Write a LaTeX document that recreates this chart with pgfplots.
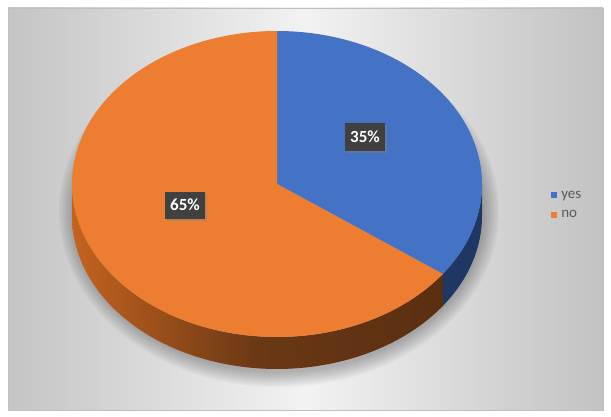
\documentclass[border=0pt]{standalone}
\usepackage{fontspec}
\setmainfont{Carlito}
\usepackage{pgfplots}
\usepackage{pgfplotstable}
\pgfplotsset{compat=1.18}
\usetikzlibrary{shadows}

\definecolor{pieblue}{HTML}{4472C4}
\definecolor{pieorange}{HTML}{ED7D31}
\definecolor{sideblue}{HTML}{1F3763}
\definecolor{sideorangeL}{HTML}{C4631F}
\definecolor{sideorangeM}{HTML}{6A3815}
\definecolor{sideorangeR}{HTML}{5A2F10}
\definecolor{lblbox}{HTML}{404040}

% share of each answer, in percent
\pgfplotstableread{
label value
yes   35
no    65
}\piedata
\pgfplotstablegetelem{0}{value}\of\piedata
\pgfmathsetmacro\angA{3.6*\pgfplotsretval}
\pgfmathsetmacro\angAn{\angA+1}

% pie geometry (axis units = px of the reference)
\def\cx{277}\def\cy{232}\def\rx{205}\def\ry{153}\def\th{32}

\begin{document}
\begin{tikzpicture}
\begin{axis}[
  width=611pt, height=416pt, scale only axis,
  xmin=0, xmax=611, ymin=0, ymax=416,
  axis lines=none, clip=false,
  legend style={at={(0.897,0.507)}, anchor=west, draw=none, fill=none,
    font=\fontsize{15}{17}\selectfont, text=black!65, row sep=7pt},
  legend cell align=left,
  legend image code/.code={\fill[#1] (0pt,-3pt) rectangle (6pt,3pt); \path (8pt,0pt);},
]
% chart area
\fill[white] (axis cs:0,0) rectangle (axis cs:611,416);
\shade[left color=black!23, right color=black!24, middle color=black!5,
  draw=black!25] (axis cs:8,6) rectangle (axis cs:603,408);
% soft shadow under the pie
\pgfplotsinvokeforeach{0,...,7}{
  \fill[black, opacity=0.035]
    (axis cs:279,205) ellipse [x radius={220-2*#1}, y radius={176-2*#1}];
}

% sides
\addplot[forget plot, draw=none, left color=sideorangeL, right color=sideorangeR,
  middle color=sideorangeM,
  samples at={0,1,...,100,100.01,101,102,...,200}]
  ({\cx+\rx*cos(90-(x<=100 ? \angA+(270-\angA)*x/100 : 270+(\angA-270)*(x-100)/100))},
   {\cy+\ry*sin(90-(x<=100 ? \angA+(270-\angA)*x/100 : 270+(\angA-270)*(x-100)/100)) - (x>100 ? \th : 0)});
\addplot[forget plot, draw=none, fill=sideblue,
  samples at={0,1,...,100,100.01,101,102,...,200}]
  ({\cx+\rx*cos(90-(x<=100 ? 90+(\angA-90)*x/100 : \angA+(90-\angA)*(x-100)/100))},
   {\cy+\ry*sin(90-(x<=100 ? 90+(\angA-90)*x/100 : \angA+(90-\angA)*(x-100)/100)) - (x>100 ? \th : 0)});

% top faces
\addplot[draw=none, fill=pieblue, samples at={-1,0,1,...,\angA}]
  ({x<0 ? \cx : \cx+\rx*cos(90-x)}, {x<0 ? \cy : \cy+\ry*sin(90-x)});
\addlegendentry{yes}
\addplot[draw=none, fill=pieorange, samples at={-1,\angA,\angAn,...,359,360}]
  ({x<0 ? \cx : \cx+\rx*cos(90-x)}, {x<0 ? \cy : \cy+\ry*sin(90-x)});
\addlegendentry{no}

% data labels
\node[fill=lblbox, text=white, font=\fontsize{17}{19}\selectfont\bfseries,
  minimum width=40pt, minimum height=27pt, inner sep=2pt,
  drop shadow={opacity=0.4, shadow xshift=2pt, shadow yshift=-2pt}]
  at (axis cs:365,279) {35\%};
\node[fill=lblbox, text=white, font=\fontsize{17}{19}\selectfont\bfseries,
  minimum width=40pt, minimum height=27pt, inner sep=2pt,
  drop shadow={opacity=0.4, shadow xshift=2pt, shadow yshift=-2pt}]
  at (axis cs:185,211) {65\%};
\end{axis}
\end{tikzpicture}
\end{document}
